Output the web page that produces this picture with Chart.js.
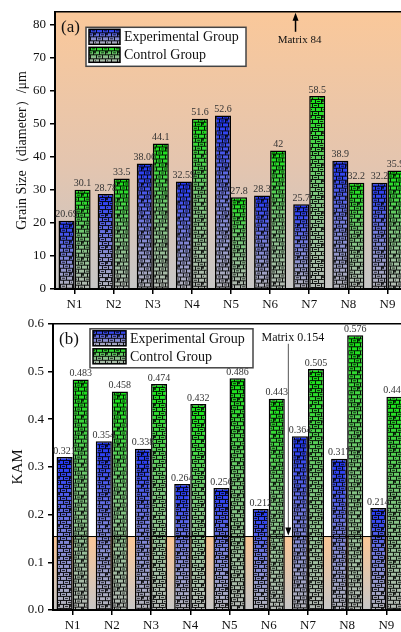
<!DOCTYPE html>
<html>
<head>
<meta charset="utf-8">
<script src="https://cdn.jsdelivr.net/npm/chart.js@4.4.1/dist/chart.umd.min.js"></script>
<style>
    html, body { margin: 0; padding: 0; background: #fff; overflow: hidden; width: 401px; height: 632px; }
    .wrap { position: relative; width: 412px; }
    #grain-wrap { height: 312px; }
    #kam-wrap { height: 320px; }
</style>
</head>
<body>
<div class="wrap" id="grain-wrap"><canvas id="grain-chart"></canvas></div>
<div class="wrap" id="kam-wrap"><canvas id="kam-chart"></canvas></div>
<script>
const categories = ['N1', 'N2', 'N3', 'N4', 'N5', 'N6', 'N7', 'N8', 'N9'];
const seriesNames = ['Experimental Group', 'Control Group'];

const grainExperimental = [20.69, 28.78, 38.06, 32.59, 52.6, 28.3, 25.7, 38.9, 32.2];
const grainControl = [30.1, 33.5, 44.1, 51.6, 27.8, 42, 58.5, 32.2, 35.9];
const grainTicks = [0, 10, 20, 30, 40, 50, 60, 70, 80];
const grainMax = 84;
const grainMatrix = 84;

const kamExperimental = [0.321, 0.354, 0.338, 0.264, 0.256, 0.212, 0.364, 0.317, 0.214];
const kamControl = [0.483, 0.458, 0.474, 0.432, 0.486, 0.443, 0.505, 0.576, 0.447];
const kamTicks = [0, 0.1, 0.2, 0.3, 0.4, 0.5, 0.6];
const kamMax = 0.6;
const kamMatrix = 0.154;

const FONT = '"Liberation Serif", "Times New Roman", serif';
const FILL_STOPS = {
    blue: ['#2036f8', '#7078da', '#b4b4ba'],
    green: ['#14e414', '#76c476', '#b4b8b4']
};

// brick texture on a vertical gradient, one tile per bar height
function makeFill(ctx, kind, top, height) {
    const h = Math.max(2, Math.round(height));
    const tile = document.createElement('canvas');
    tile.width = 12;
    tile.height = h;
    const t = tile.getContext('2d');
    const stops = FILL_STOPS[kind];
    const g = t.createLinearGradient(0, 0, 0, h);
    g.addColorStop(0, stops[0]);
    g.addColorStop(0.45, stops[1]);
    g.addColorStop(1, stops[2]);
    t.fillStyle = g;
    t.fillRect(0, 0, 12, h);
    for (let r = 0; r * 4 < h; r++) {
        const y0 = r * 4;
        const off = r % 2 ? 3 : 0;
        t.fillStyle = 'rgba(0,0,0,0.9)';
        t.fillRect(0, y0 + 3, 12, 1);
        t.fillRect(off, y0, 1, 3);
        t.fillRect(off + 6, y0, 1, 3);
        t.fillStyle = 'rgba(0,0,0,0.75)';
        t.fillRect(off + 2 + (r % 3 === 0 ? 6 : 0), y0 + 1, 3, 1);
        if (r % 4 === 1) t.fillRect(off + 7, y0, 4, 2);
    }
    const pattern = ctx.createPattern(tile, 'repeat');
    pattern.setTransform(new DOMMatrix().translateSelf(0, top));
    return pattern;
}

function barFill(kind) {
    return (c) => {
        const chart = c.chart;
        if (!chart.chartArea || c.type !== 'data') return FILL_STOPS[kind][0];
        const yScale = chart.scales.y;
        const top = yScale.getPixelForValue(c.raw);
        const base = yScale.getPixelForValue(0);
        return makeFill(chart.ctx, kind, top, base - top);
    };
}

function makeDatasets(expData, ctrlData) {
    return [
        { label: seriesNames[0], data: expData, kind: 'blue', backgroundColor: barFill('blue') },
        { label: seriesNames[1], data: ctrlData, kind: 'green', backgroundColor: barFill('green') }
    ].map((ds) => Object.assign(ds, {
        borderColor: '#000',
        borderWidth: 1.5,
        categoryPercentage: 0.82,
        barPercentage: 1
    }));
}

const valueLabels = {
    id: 'valueLabels',
    afterDatasetsDraw(chart) {
        const { ctx } = chart;
        ctx.save();
        ctx.font = '10px ' + FONT;
        ctx.fillStyle = '#333';
        ctx.textAlign = 'center';
        ctx.textBaseline = 'bottom';
        chart.data.datasets.forEach((ds, i) => {
            chart.getDatasetMeta(i).data.forEach((bar, j) => {
                ctx.fillText(String(ds.data[j]), bar.x, bar.y - 1);
            });
        });
        ctx.restore();
    }
};

function decorPlugin(cfg) {
    return {
        id: 'decor',
        beforeDraw(chart) {
            const { ctx, chartArea: a } = chart;
            const yScale = chart.scales.y;
            ctx.save();
            if (cfg.fullBackground) {
                const g = ctx.createLinearGradient(0, a.top, 0, a.bottom);
                g.addColorStop(0, '#fac89a');
                g.addColorStop(0.55, '#e4c5af');
                g.addColorStop(1, '#c6c6c6');
                ctx.fillStyle = g;
                ctx.fillRect(a.left, a.top, a.right - a.left, a.bottom - a.top);
            } else {
                const yTop = yScale.getPixelForValue(cfg.matrix);
                const g = ctx.createLinearGradient(0, yTop, 0, a.bottom);
                g.addColorStop(0, '#fbc797');
                g.addColorStop(1, '#c6c6c6');
                ctx.fillStyle = g;
                ctx.fillRect(a.left, yTop, a.right - a.left, a.bottom - yTop);
            }
            ctx.restore();
        },
        afterDatasetsDraw(chart) {
            const { ctx, chartArea: a } = chart;
            const xScale = chart.scales.x;
            const yScale = chart.scales.y;
            ctx.save();
            // frame top line
            ctx.strokeStyle = '#000';
            ctx.lineWidth = 1.5;
            ctx.beginPath();
            ctx.moveTo(a.left, a.top);
            ctx.lineTo(a.right, a.top);
            ctx.stroke();

            const yM = yScale.getPixelForValue(cfg.matrix);
            const ax = xScale.getPixelForValue(cfg.arrowAt);
            if (!cfg.fullBackground) {
                ctx.lineWidth = 1;
                ctx.beginPath();
                ctx.moveTo(a.left, yM);
                ctx.lineTo(a.right, yM);
                ctx.stroke();
            }
            ctx.fillStyle = '#111';
            ctx.font = cfg.matrixFont + 'px ' + FONT;
            ctx.textAlign = 'center';
            ctx.textBaseline = 'middle';
            ctx.fillText('Matrix ' + cfg.matrix, ax + cfg.textDx, a.top + cfg.textDy);
            ctx.strokeStyle = cfg.fullBackground ? '#000' : '#555';
            ctx.lineWidth = cfg.fullBackground ? 1.5 : 1;
            ctx.beginPath();
            if (cfg.fullBackground) {
                ctx.moveTo(ax, a.top + 20);
                ctx.lineTo(ax, yM + 6);
            } else {
                ctx.moveTo(ax, a.top + 20);
                ctx.lineTo(ax, yM - 6);
            }
            ctx.stroke();
            ctx.fillStyle = '#000';
            ctx.beginPath();
            const dir = cfg.fullBackground ? 1 : -1;
            ctx.moveTo(ax, yM + (cfg.fullBackground ? 1 : -1));
            ctx.lineTo(ax - 3, yM + dir * 9);
            ctx.lineTo(ax + 3, yM + dir * 9);
            ctx.closePath();
            ctx.fill();
            ctx.restore();
        },
        afterDraw(chart) {
            const { ctx, chartArea: a } = chart;
            ctx.save();
            // panel letter
            ctx.fillStyle = '#111';
            ctx.font = '17px ' + FONT;
            ctx.textAlign = 'left';
            ctx.textBaseline = 'middle';
            ctx.fillText(cfg.panel, a.left + cfg.panelDx, a.top + cfg.panelDy);
            // legend box
            const L = cfg.legend;
            const bx = a.left + L.dx;
            const by = a.top + L.dy;
            ctx.fillStyle = '#fff';
            ctx.fillRect(bx, by, L.w, L.h);
            ctx.strokeStyle = '#444';
            ctx.lineWidth = 1.5;
            ctx.strokeRect(bx, by, L.w, L.h);
            chart.data.datasets.forEach((ds, i) => {
                const sy = by + 2 + i * L.rowH;
                const sh = L.rowH - 3;
                ctx.fillStyle = makeFill(ctx, ds.kind, sy, sh);
                ctx.fillRect(bx + 3, sy, L.swW, sh);
                ctx.strokeStyle = '#000';
                ctx.lineWidth = 1.5;
                ctx.strokeRect(bx + 3, sy, L.swW, sh);
                ctx.fillStyle = '#111';
                ctx.font = L.font + 'px ' + FONT;
                ctx.fillText(ds.label, bx + L.swW + 7, sy + sh / 2 + 1);
            });
            ctx.restore();
        }
    };
}

function axes(opts) {
    return {
        x: {
            offset: true,
            afterFit: (s) => { s.height = opts.xHeight; },
            ticks: { font: { family: FONT, size: 13 }, color: '#111', padding: 3, maxRotation: 0, autoSkip: false },
            grid: { offset: false, drawOnChartArea: false, tickLength: 5, color: '#000', lineWidth: 1.5 },
            border: { color: '#000', width: 2 }
        },
        y: {
            min: 0,
            max: opts.max,
            afterBuildTicks: (s) => { s.ticks = opts.ticks.map((v) => ({ value: v })); },
            afterFit: (s) => { s.width = opts.yWidth; },
            ticks: { font: { family: FONT, size: 13 }, color: '#111', padding: 4, callback: opts.format },
            grid: { drawOnChartArea: false, tickLength: 5, color: '#000', lineWidth: 1.5 },
            border: { color: '#000', width: 2 },
            title: {
                display: true,
                text: opts.title,
                font: { family: FONT, size: opts.titleSize },
                color: '#111',
                padding: { top: opts.titlePad, bottom: 0 }
            }
        }
    };
}

new Chart(document.getElementById('grain-chart'), {
    type: 'bar',
    data: { labels: categories, datasets: makeDatasets(grainExperimental, grainControl) },
    options: {
        responsive: true,
        maintainAspectRatio: false,
        animation: false,
        layout: { padding: { top: 6, right: 5, left: 0, bottom: 0 } },
        plugins: { legend: { display: false }, tooltip: { enabled: false } },
        scales: axes({
            max: grainMax, ticks: grainTicks, xHeight: 23, yWidth: 55,
            format: (v) => String(v), title: 'Grain Size（diameter）/μm', titleSize: 14, titlePad: 14
        })
    },
    plugins: [valueLabels, decorPlugin({
        fullBackground: true, matrix: grainMatrix, arrowAt: 5.65, textDx: 4, textDy: 28.5, matrixFont: 11,
        panel: '(a)', panelDx: 6, panelDy: 15.5,
        legend: { dx: 31, dy: 15.5, w: 160, h: 39, rowH: 18, swW: 31, font: 14 }
    })]
});

new Chart(document.getElementById('kam-chart'), {
    type: 'bar',
    data: { labels: categories, datasets: makeDatasets(kamExperimental, kamControl) },
    options: {
        responsive: true,
        maintainAspectRatio: false,
        animation: false,
        layout: { padding: { top: 11, right: 6, left: 0, bottom: 0 } },
        plugins: { legend: { display: false }, tooltip: { enabled: false } },
        scales: axes({
            max: kamMax, ticks: kamTicks, xHeight: 22, yWidth: 53,
            format: (v) => Number(v).toFixed(1), title: 'KAM', titleSize: 15, titlePad: 9
        })
    },
    plugins: [valueLabels, decorPlugin({
        fullBackground: false, matrix: kamMatrix, arrowAt: 5.5, textDx: 4.5, textDy: 14, matrixFont: 12,
        panel: '(b)', panelDx: 6, panelDy: 16,
        legend: { dx: 37, dy: 5, w: 163, h: 39, rowH: 18, swW: 33, font: 14 }
    })]
});
</script>
</body>
</html>
